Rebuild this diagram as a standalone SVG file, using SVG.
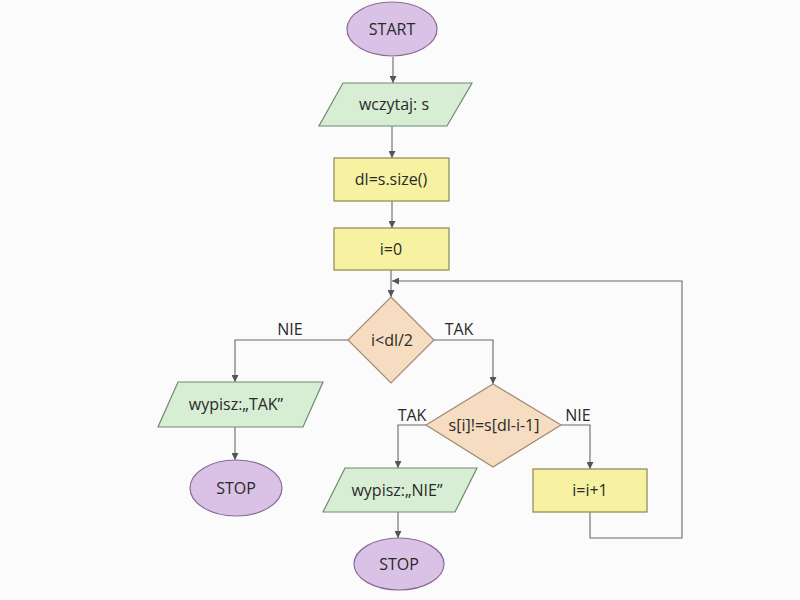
<svg xmlns="http://www.w3.org/2000/svg" width="800" height="600" viewBox="0 0 800 600">
<defs>
<marker id="arr" viewBox="0 0 10 10" refX="10" refY="5" markerWidth="7" markerHeight="7" markerUnits="userSpaceOnUse" orient="auto">
<path d="M0,0 L10,5 L0,10 z" fill="#555"/>
</marker>
<style>
.term{fill:#d9c2e6;stroke:#8a6a98;stroke-width:1.2}
.io{fill:#d8eed4;stroke:#6f8a70;stroke-width:1.2}
.proc{fill:#f6f2a2;stroke:#8c8850;stroke-width:1.2}
.dec{fill:#f6dcc0;stroke:#a08a72;stroke-width:1.2}
text{font-family:"Open Sans","Noto Sans",sans-serif;font-size:16px;fill:#2a2a2a;text-anchor:middle}
.c{fill:none;stroke:#6a6a6a;stroke-width:1.1}
</style>
</defs>
<rect width="800" height="600" fill="#fbfbfc"/>
<g id="connectors">
<path class="c" d="M393,57 V83" marker-end="url(#arr)"/>
<path class="c" d="M392,126 V158" marker-end="url(#arr)"/>
<path class="c" d="M392,201 V228" marker-end="url(#arr)"/>
<path class="c" d="M391,270 V297" marker-end="url(#arr)"/>
<path class="c" d="M590,512 V538 H682 V281 H392" marker-end="url(#arr)"/>
<path class="c" d="M348,340 H235 V382" marker-end="url(#arr)"/>
<path class="c" d="M434,340 H493 V384" marker-end="url(#arr)"/>
<path class="c" d="M235,427 V460" marker-end="url(#arr)"/>
<path class="c" d="M426,425 H398 V468" marker-end="url(#arr)"/>
<path class="c" d="M561,425 H590 V469" marker-end="url(#arr)"/>
<path class="c" d="M398,512 V538" marker-end="url(#arr)"/>
<text x="290" y="335">NIE</text>
<text x="459" y="335">TAK</text>
<text x="412" y="421">TAK</text>
<text x="578" y="421">NIE</text>
</g>
<g id="start"><ellipse class="term" cx="392" cy="29" rx="45" ry="27"/><text x="392" y="35">START</text></g>
<g id="read"><polygon class="io" points="343,83 472,83 447,126 319,126"/><text x="394" y="110">wczytaj: s</text></g>
<g id="size"><rect class="proc" x="334" y="158" width="115" height="43"/><text x="391" y="185">dl=s.size()</text></g>
<g id="init"><rect class="proc" x="334" y="228" width="115" height="42"/><text x="391" y="255">i=0</text></g>
<g id="cond1"><polygon class="dec" points="391,297 434,340 391,383 348,340"/><text x="392" y="346">i&lt;dl/2</text></g>
<g id="outTak"><polygon class="io" points="178,382 323,382 303,427 158,427"/><text x="236" y="410">wypisz:„TAK”</text></g>
<g id="stop1"><ellipse class="term" cx="236" cy="488" rx="46" ry="28"/><text x="236" y="494">STOP</text></g>
<g id="cond2"><polygon class="dec" points="493,384 561,425 493,467 426,425"/><text x="494" y="431">s[i]!=s[dl-i-1]</text></g>
<g id="outNie"><polygon class="io" points="345,468 477,468 455,512 323,512"/><text x="397" y="496">wypisz:„NIE”</text></g>
<g id="inc"><rect class="proc" x="533" y="469" width="114" height="43"/><text x="590" y="496">i=i+1</text></g>
<g id="stop2"><ellipse class="term" cx="399" cy="564" rx="45" ry="26"/><text x="399" y="570">STOP</text></g>
</svg>
